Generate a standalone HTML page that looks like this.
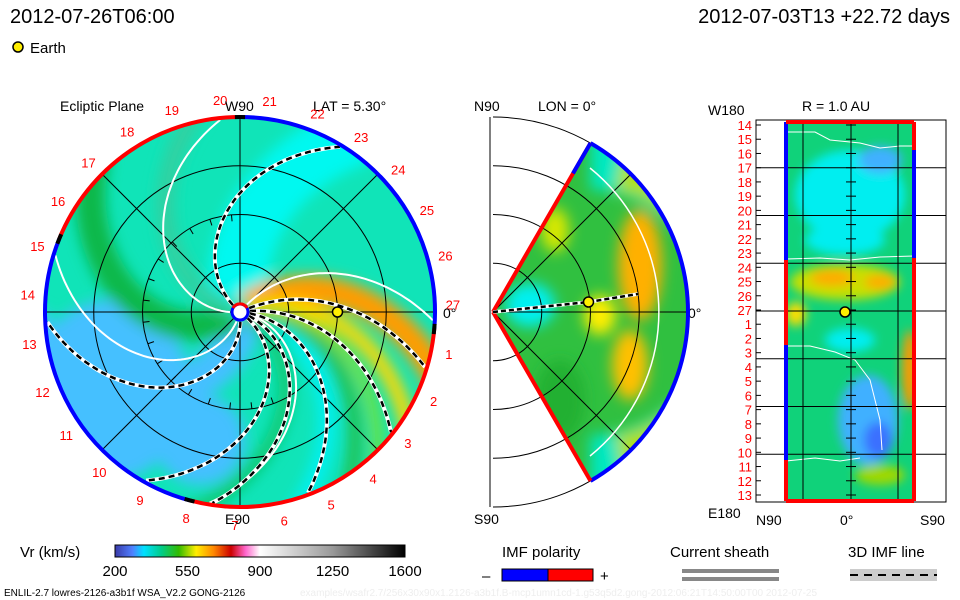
<!DOCTYPE html>
<html><head><meta charset="utf-8"><style>
html,body{margin:0;padding:0;background:#fff}
svg{display:block;font-family:"Liberation Sans",sans-serif}
</style></head><body>
<svg id="chart" width="960" height="600" viewBox="0 0 960 600">
<defs>
<filter id="blur8"><feGaussianBlur stdDeviation="7"/></filter>
<filter id="blur5"><feGaussianBlur stdDeviation="5"/></filter>
<clipPath id="circ"><circle cx="240" cy="312" r="195"/></clipPath>
<clipPath id="wedge"><path d="M493,312 L590.5,143.1 A195,195 0 0 1 590.5,480.9 Z"/></clipPath>
<clipPath id="rect"><rect x="786" y="120" width="128" height="382"/></clipPath>
<linearGradient id="cbar" x1="0" x2="1">
<stop offset="0" stop-color="#3a3aa8"/><stop offset="0.06" stop-color="#4f7fff"/><stop offset="0.1" stop-color="#00e0ff"/>
<stop offset="0.16" stop-color="#00cc88"/><stop offset="0.22" stop-color="#33bb00"/><stop offset="0.28" stop-color="#ffee00"/>
<stop offset="0.34" stop-color="#ff8800"/><stop offset="0.4" stop-color="#cc0000"/><stop offset="0.45" stop-color="#ff66cc"/>
<stop offset="0.5" stop-color="#ffffff"/><stop offset="0.75" stop-color="#999"/><stop offset="1" stop-color="#000"/>
</linearGradient>
</defs>

<text x="10" y="23" font-size="20">2012-07-26T06:00</text>
<text x="950" y="23" font-size="20" text-anchor="end">2012-07-03T13 +22.72 days</text>
<circle cx="18" cy="47" r="5" fill="#ffee00" stroke="#000" stroke-width="1.5"/>
<text x="30" y="53" font-size="15">Earth</text>

<g>
<text x="60" y="111" font-size="14">Ecliptic Plane</text>
<text x="313" y="111" font-size="14">LAT = 5.30°</text>
<g clip-path="url(#circ)">
<circle cx="240" cy="312" r="195" fill="#10e4b8"/>
<g id="eclBlobs" filter="url(#blur8)"></g>
</g>
<g id="eclLines"></g>
<g id="eclBorder"></g>
<g id="eclLabels"></g>
<text x="225" y="111" font-size="14">W90</text>
<text x="225" y="524" font-size="14">E90</text>
<text x="443" y="318" font-size="14">0°</text>
</g>

<g>
<text x="474" y="111" font-size="14">N90</text>
<text x="538" y="111" font-size="14">LON = 0°</text>
<text x="474" y="524" font-size="14">S90</text>
<text x="688" y="318" font-size="14">0°</text>
<g clip-path="url(#wedge)">
<rect x="490" y="110" width="210" height="380" fill="#30c040"/>
<g filter="url(#blur8)">
<path d="M590,160 A150,150 0 0 1 590,465" stroke="#00e8c0" stroke-width="60" fill="none"/>
<path d="M620,170 A145,145 0 0 1 620,455" stroke="#b0e000" stroke-width="40" fill="none"/>
<ellipse cx="640" cy="265" rx="22" ry="55" fill="#ffb000"/>
<ellipse cx="630" cy="365" rx="18" ry="35" fill="#ffc000"/>
<ellipse cx="600" cy="315" rx="16" ry="20" fill="#ffee00"/>
<ellipse cx="555" cy="230" rx="14" ry="22" fill="#d8e800"/>
<ellipse cx="530" cy="305" rx="25" ry="22" fill="#00f0f0"/>
<ellipse cx="560" cy="400" rx="25" ry="40" fill="#20b030"/>
</g>
</g>
<g id="merLines"></g>
</g>

<g>
<text x="802" y="111" font-size="14">R = 1.0 AU</text>
<text x="708" y="115" font-size="14">W180</text>
<text x="708" y="518" font-size="14">E180</text>
<text x="756" y="525" font-size="14">N90</text>
<text x="840" y="525" font-size="14">0°</text>
<text x="920" y="525" font-size="14">S90</text>
<g clip-path="url(#rect)">
<rect x="786" y="120" width="128" height="382" fill="#10d27a"/>
<g filter="url(#blur5)">
<ellipse cx="850" cy="195" rx="55" ry="45" fill="#00eef0"/>
<ellipse cx="880" cy="160" rx="22" ry="14" fill="#40b0ff"/>
<ellipse cx="845" cy="240" rx="40" ry="15" fill="#00eef0"/>
<ellipse cx="845" cy="282" rx="55" ry="18" fill="#c8e000"/>
<ellipse cx="832" cy="278" rx="22" ry="8" fill="#ffaa00"/>
<ellipse cx="880" cy="282" rx="16" ry="7" fill="#ffaa00"/>
<ellipse cx="796" cy="314" rx="10" ry="12" fill="#ffdd00"/>
<ellipse cx="910" cy="370" rx="8" ry="40" fill="#ff9900"/>
<ellipse cx="850" cy="340" rx="25" ry="12" fill="#00eef0"/>
<ellipse cx="868" cy="420" rx="30" ry="45" fill="#40b0ff"/>
<ellipse cx="878" cy="440" rx="14" ry="18" fill="#3a70ff"/>
<ellipse cx="880" cy="475" rx="25" ry="10" fill="#a0d800"/>
</g>
<path d="M786,132 L815,132 L830,140 L860,143 L880,148 L900,146 L914,146" stroke="#fff" fill="none"/>
<path d="M786,259 L820,258 L850,260 L880,257 L914,256" stroke="#fff" fill="none"/>
<path d="M786,346 L810,346 L835,352 L855,360 L870,380 L880,420 L882,450" stroke="#fff" fill="none"/>
<path d="M786,461 L815,458 L840,461 L860,458" stroke="#fff" fill="none"/>
</g>
<g id="latLines"></g>
</g>

<g>
<text x="20" y="557" font-size="15">Vr (km/s)</text>
<rect x="115" y="545" width="290" height="12" fill="url(#cbar)" stroke="#000"/>
<g id="cbarTicks"></g>
</g>
<g>
<text x="502" y="557" font-size="15">IMF polarity</text>
<text x="482" y="581" font-size="15">–</text>
<rect x="502" y="569" width="46" height="12" fill="#0000ff" stroke="#000"/>
<rect x="548" y="569" width="45" height="12" fill="#ff0000" stroke="#000"/>
<text x="600" y="581" font-size="15">+</text>
<text x="670" y="557" font-size="15">Current sheath</text>
<rect x="682" y="569" width="97" height="4" fill="#888"/>
<rect x="682" y="577" width="97" height="4" fill="#888"/>
<text x="848" y="557" font-size="15">3D IMF line</text>
<rect x="850" y="569" width="87" height="12" fill="#ccc"/>
<line x1="850" y1="575" x2="937" y2="575" stroke="#000" stroke-width="2" stroke-dasharray="8,6"/>
</g>
<text x="4" y="596" font-size="10">ENLIL-2.7 lowres-2126-a3b1f WSA_V2.2 GONG-2126</text>
<text x="300" y="596" font-size="10" fill="#eee">examples/wsafr2.7/256x30x90x1.2126-a3b1f.B-mcp1umn1cd-1.g53q5d2.gong-2012:06:21T14:50:00T00    2012-07-25</text>
</svg>
<script>
const NS='http://www.w3.org/2000/svg';
const cbarTicks=[200,550,900,1250,1600];
const carrLabels=[27,26,25,24,23,22,21,20,19,18,17,16,15,14,13,12,11,10,9,8,7,6,5,4,3,2,1];
const latLabels=[14,15,16,17,18,19,20,21,22,23,24,25,26,27,1,2,3,4,5,6,7,8,9,10,11,12,13];
const imfStart=[25,8,-5,-20,-35,140,277];
const imfEnd=[-17,-39,-70,-99,-120,58,182];
const sheathStart=[50,185,255,-10];
const sheathEnd=[-3,95,162,-100];
const earthAU=1.0;
const cx=240,cy=312,R=195,AU=97.5;
function el(tag,attrs,parent){const e=document.createElementNS(NS,tag);for(const k in attrs)e.setAttribute(k,attrs[k]);parent.appendChild(e);return e;}
function pt(r,deg){const a=deg*Math.PI/180;return [cx+r*Math.cos(a),cy-r*Math.sin(a)];}
function spiral(a0,a1,r0,r1){let d='';for(let r=r0;r<=r1;r+=3){const p=pt(r,a0+(a1-a0)*r/R);d+=(d?'L':'M')+p[0].toFixed(1)+','+p[1].toFixed(1);}return d;}
const bl=document.getElementById('eclBlobs');
function band(a0,a1,w,c){el('path',{d:spiral(a0,a1,8,215),stroke:c,'stroke-width':w,fill:'none'},bl);}
el('ellipse',{cx:110,cy:390,rx:80,ry:90,fill:'#44c0ff'},bl);
el('ellipse',{cx:200,cy:440,rx:45,ry:45,fill:'#44c0ff'},bl);
band(100,60,60,'#00f8f0');
band(270,190,40,'#44c0ff');
band(215,140,30,'#10b848');
band(165,105,18,'#30d0a0');
band(-5,-70,18,'#00f0f0');
band(-25,-100,14,'#10c870');
band(5,-55,14,'#20c050');
band(38,-15,28,'#ff9c00');
band(20,-32,16,'#ffd800');
band(12,-45,8,'#a0e000');
const ln=document.getElementById('eclLines');
for(const r of [48.75,97.5,146.25]){const c=el('circle',{cx:cx,cy:cy,r:r,fill:'none',stroke:'#000','stroke-width':1},ln);}
for(const a of [0,45,90,135]){const p=pt(R,a),q=pt(R,a+180);const l=el('line',{x1:p[0],y1:p[1],x2:q[0],y2:q[1],stroke:'#000'},ln);}
for(let a=95;a<=290;a+=13){const p=pt(97.5,a),q=pt(91,a);const t=el('line',{x1:p[0],y1:p[1],x2:q[0],y2:q[1],stroke:'#000'},ln);}
sheathStart.forEach((s,i)=>{const w=el('path',{d:spiral(s,sheathEnd[i],10,195),stroke:'#fff','stroke-width':2,fill:'none'},ln);});
imfStart.forEach((s,i)=>{
 const bg=el('path',{d:spiral(s,imfEnd[i],10,193),stroke:'#fff','stroke-width':4,fill:'none'},ln);
 
 const sp=el('path',{d:spiral(s,imfEnd[i],10,193),stroke:'#000','stroke-width':2.5,fill:'none','stroke-dasharray':'6,4'},ln);
 });
const sun=el('circle',{cx:cx,cy:cy,r:8,fill:'#fff',stroke:'#00f','stroke-width':3},ln);

const sr=el('path',{d:'M233,308 A8,8 0 0 1 247,308',stroke:'#f00','stroke-width':3,fill:'none'},ln);

const ep=pt(earthAU*AU,0);
const earth=el('circle',{cx:ep[0],cy:ep[1],r:5,fill:'#ffee00',stroke:'#000','stroke-width':1.5},ln);

const bd=document.getElementById('eclBorder');
const polar=[[-5,90,'#00f'],[90,158,'#f00'],[158,255,'#00f'],[255,355,'#f00']];
for(const [a0,a1,c] of polar){const p=pt(R,a0),q=pt(R,a1);const arc=el('path',{d:`M${p[0]},${p[1]} A${R},${R} 0 0 0 ${q[0]},${q[1]}`,stroke:c,'stroke-width':4,fill:'none'},bd);}
for(const a of [90,158,255,355]){const p=pt(R,a-1.5),q=pt(R,a+1.5);const k=el('path',{d:`M${p[0]},${p[1]} A${R},${R} 0 0 0 ${q[0]},${q[1]}`,stroke:'#000','stroke-width':4,fill:'none'},bd);}
const lb=document.getElementById('eclLabels');
carrLabels.forEach((n,i)=>{const p=pt(213,2+i*360/27);const t=el('text',{x:p[0],y:p[1]+5,'font-size':13,fill:'#f00','text-anchor':'middle'},lb);t.textContent=n;});
const ml=document.getElementById('merLines');const mx=493;
function mpt(r,deg){const a=deg*Math.PI/180;return [mx+r*Math.cos(a),cy-r*Math.sin(a)];}
let e=el('line',{x1:490,y1:117,x2:490,y2:507,stroke:'#000'},ml);
for(const r of [48.75,97.5,146.25,195]){const p=mpt(r,-90),q=mpt(r,90);const a=el('path',{d:`M${q[0]},${q[1]} A${r},${r} 0 0 1 ${p[0]},${p[1]}`,fill:'none',stroke:'#000'},ml);}
for(const a of [45,0,-45]){const p=mpt(195,a);const l=el('line',{x1:mx,y1:cy,x2:p[0],y2:p[1],stroke:'#000'},ml);}
const wt=mpt(195,60),wb=mpt(195,-60);
e=el('path',{d:`M590,168 A185,185 0 0 1 590,456`,stroke:'#fff','stroke-width':1.5,fill:'none'},ml);
e=el('path',{d:`M${wt[0]},${wt[1]} A195,195 0 0 1 ${wb[0]},${wb[1]}`,stroke:'#00f','stroke-width':4,fill:'none'},ml);
e=el('line',{x1:mx,y1:cy,x2:wt[0],y2:wt[1],stroke:'#f00','stroke-width':4},ml);
e=el('line',{x1:mx,y1:cy,x2:wt[0],y2:wt[1],stroke:'#00f','stroke-width':4,'stroke-dasharray':'0,160,40'},ml);
e=el('line',{x1:mx,y1:cy,x2:wb[0],y2:wb[1],stroke:'#f00','stroke-width':4},ml);
e=el('path',{d:`M${mx},${cy} L${mx+earthAU*AU-2},302 L638,294`,stroke:'#fff','stroke-width':3.5,fill:'none'},ml);
e=el('path',{d:`M${mx},${cy} L${mx+earthAU*AU-2},302 L638,294`,stroke:'#000','stroke-width':2.5,'stroke-dasharray':'5,3',fill:'none'},ml);
e=el('circle',{cx:mx+earthAU*AU-2,cy:302,r:5,fill:'#ffee00',stroke:'#000','stroke-width':1.5},ml);
const lg=document.getElementById('latLines');const x0=756,x1=946,y0=120,y1=502;
for(let i=1;i<8;i++){const y=y0+i*(y1-y0)/8;e=el('line',{x1:x0,y1:y,x2:x1,y2:y,stroke:'#000'},lg);}
for(const x of [803,851,898]){e=el('line',{x1:x,y1:y0,x2:x,y2:y1,stroke:'#000'},lg);}
e=el('rect',{x:x0,y:y0,width:x1-x0,height:y1-y0,fill:'none',stroke:'#000'},lg);
latLabels.forEach((n,i)=>{const y=125+i*(495-125)/26;
 const t=el('text',{x:752,y:y+5,'font-size':13,fill:'#f00','text-anchor':'end'},lg);t.textContent=n;
 const k=el('line',{x1:x0,y1:y,x2:x0+5,y2:y,stroke:'#000'},lg);
 const k2=el('line',{x1:846,y1:y,x2:856,y2:y,stroke:'#000'},lg);});
const bords=[[786,122,786,260,'#00f'],[786,260,786,345,'#f00'],[786,345,786,460,'#00f'],[786,460,786,501,'#f00'],[914,122,914,150,'#f00'],[914,150,914,258,'#00f'],[914,258,914,501,'#f00'],[786,122,914,122,'#f00'],[786,501,914,501,'#f00']];
for(const [a,b2,c,d,col] of bords){e=el('line',{x1:a,y1:b2,x2:c,y2:d,stroke:col,'stroke-width':4},lg);}
e=el('circle',{cx:845,cy:312,r:5,fill:'#ffee00',stroke:'#000','stroke-width':1.5},lg);
const ct=document.getElementById('cbarTicks');
cbarTicks.forEach(v=>{const x=115+(v-200)/(1600-200)*290;const t=el('text',{x:x,y:576,'font-size':15,'text-anchor':'middle'},ct);t.textContent=v;});
</script>
</body></html>
